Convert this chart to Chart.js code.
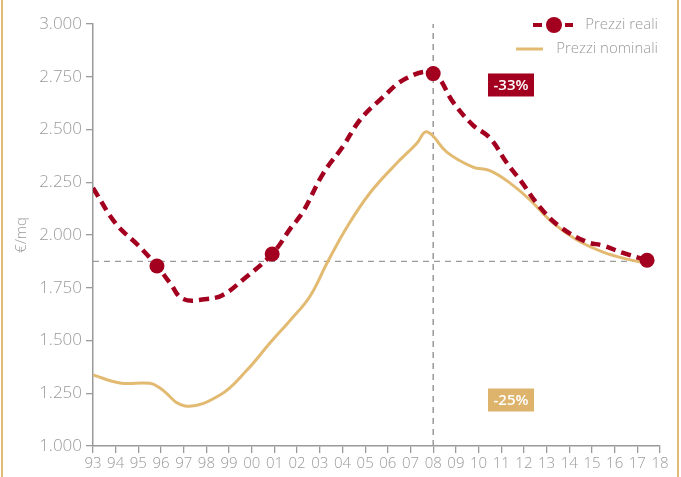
<!DOCTYPE html>
<html lang="it">
<head>
<meta charset="utf-8">
<title>Prezzi reali e nominali €/mq</title>
<script src="https://cdn.jsdelivr.net/npm/chart.js@4/dist/chart.umd.min.js"></script>
<style>
  html, body { margin: 0; padding: 0; background: #fff; }
  #wrap { position: relative; width: 681px; height: 477px; overflow: hidden; }
  #wrap::before, #wrap::after {
    content: ""; position: absolute; top: 0; bottom: 0; width: 2px; background: #e2ba72;
  }
  #wrap::before { left: 1px; }
  #wrap::after { left: 677px; }
  canvas { display: block; }
</style>
</head>
<body>
<div id="wrap"><canvas id="chart" width="681" height="477"></canvas></div>
<script>
// Anni (asse x) e valori in €/mq
const yearTicks = ['93','94','95','96','97','98','99','00','01','02','03','04','05','06','07','08','09','10','11','12','13','14','15','16','17','18'];

const realYears  = [1993.0, 1994.0, 1995.0, 1995.82, 1996.4, 1996.97, 1998.03, 1998.73, 1999.6, 2000.9, 2001.7, 2002.26, 2003.14, 2004.02, 2004.77, 2005.65, 2006.84, 2008.0, 2008.9, 2009.75, 2010.5, 2011.25, 2011.83, 2012.7, 2013.6, 2014.78, 2015.49, 2016.37, 2017.43];
const realPrices = [2223, 2055, 1950, 1853, 1772, 1697, 1697, 1716, 1787, 1910, 2030, 2110, 2290, 2420, 2545, 2640, 2744, 2765, 2626, 2521, 2460, 2341, 2261, 2133, 2038, 1967, 1950, 1915, 1880];
const realMarkedYears = [1995.82, 2000.9, 2008.0, 2017.43];

const nominalYears  = [1993.0, 1994.19, 1995.51, 1995.95, 1997.06, 1998.6, 1999.79, 2000.8, 2001.69, 2002.57, 2003.32, 2004.2, 2005.21, 2006.4, 2007.29, 2007.64, 2007.95, 2008.6, 2009.75, 2010.5, 2011.39, 2012.27, 2013.28, 2014.34, 2015.49, 2016.68, 2017.43];
const nominalPrices = [1337, 1299, 1297, 1275, 1190, 1242, 1360, 1488, 1595, 1710, 1867, 2038, 2199, 2341, 2436, 2488, 2474, 2393, 2322, 2305, 2246, 2166, 2057, 1976, 1919, 1882, 1867];

// Linee di riferimento: livello finale e picco del 2008
const refLevel = 1875;
const refLevelFrom = 1993, refLevelTo = 2017.43;
const peakYear = 2008;

// Variazioni dal picco
const changeLabels = [
  { text: '-33%', x: 2011.43, y: 2711, color: '#a3001f' },
  { text: '-25%', x: 2011.43, y: 1218, color: '#deb46c' }
];

const RED = '#a3001f';
const TAN = '#e2ba72';
const GREY = '#9a9a9a';
const FONT = "'Open Sans', 'DejaVu Sans', sans-serif";

const realData = realYears.map((x, i) => ({ x, y: realPrices[i] }));
const nominalData = nominalYears.map((x, i) => ({ x, y: nominalPrices[i] }));
const markerRadius = realYears.map(x => realMarkedYears.includes(x) ? 7.5 : 0);

function fmtThousands(v) {
  const s = String(Math.round(v));
  return s.replace(/\B(?=(\d{3})+(?!\d))/g, '.');
}

const overlayPlugin = {
  id: 'overlay',
  afterDraw(chart) {
    const { ctx, scales: { x, y }, chartArea } = chart;
    ctx.save();

    // Titolo asse y
    ctx.save();
    ctx.translate(22, (chartArea.top + chartArea.bottom) / 2);
    ctx.rotate(-Math.PI / 2);
    ctx.fillStyle = GREY;
    ctx.font = `300 15px ${FONT}`;
    ctx.textAlign = 'center';
    ctx.textBaseline = 'middle';
    ctx.fillText('€/mq', 0, 0);
    ctx.restore();

    // Etichette di variazione
    ctx.font = `600 15px ${FONT}`;
    ctx.textAlign = 'center';
    ctx.textBaseline = 'middle';
    changeLabels.forEach(l => {
      const cx = x.getPixelForValue(l.x);
      const cy = y.getPixelForValue(l.y);
      const w = 46, h = 23;
      ctx.fillStyle = l.color;
      ctx.fillRect(cx - w / 2, cy - h / 2, w, h);
      ctx.fillStyle = '#fff';
      ctx.fillText(l.text, cx, cy + 1);
    });

    // Legenda
    const right = 658;
    ctx.font = `300 15px ${FONT}`;
    ctx.textAlign = 'right';
    ctx.textBaseline = 'middle';
    ctx.fillStyle = GREY;
    ctx.fillText('Prezzi reali', right, 25);
    ctx.fillText('Prezzi nominali', right, 49);

    ctx.strokeStyle = RED;
    ctx.lineWidth = 4;
    ctx.beginPath();
    ctx.moveTo(533, 25); ctx.lineTo(542, 25);
    ctx.moveTo(565, 25); ctx.lineTo(573, 25);
    ctx.stroke();
    ctx.fillStyle = RED;
    ctx.beginPath();
    ctx.arc(554, 25, 8, 0, Math.PI * 2);
    ctx.fill();

    ctx.strokeStyle = TAN;
    ctx.lineWidth = 3;
    ctx.beginPath();
    ctx.moveTo(516, 49); ctx.lineTo(543, 49);
    ctx.stroke();

    ctx.restore();
  }
};

new Chart(document.getElementById('chart'), {
  type: 'line',
  data: {
    datasets: [
      {
        label: 'livello',
        data: [{ x: refLevelFrom, y: refLevel }, { x: refLevelTo, y: refLevel }],
        borderColor: GREY,
        borderWidth: 1.3,
        borderDash: [6, 5],
        pointRadius: 0,
        tension: 0,
        order: 3
      },
      {
        label: 'picco',
        data: [{ x: peakYear, y: 1000 }, { x: peakYear, y: 3000 }],
        borderColor: GREY,
        borderWidth: 1.5,
        borderDash: [6, 5],
        pointRadius: 0,
        tension: 0,
        order: 3
      },
      {
        label: 'Prezzi nominali',
        data: nominalData,
        borderColor: TAN,
        borderWidth: 3,
        pointRadius: 0,
        tension: 0.4,
        order: 2
      },
      {
        label: 'Prezzi reali',
        data: realData,
        borderColor: RED,
        backgroundColor: RED,
        borderWidth: 4.5,
        borderDash: [10, 6],
        pointRadius: markerRadius,
        pointHoverRadius: markerRadius,
        pointBorderWidth: 0,
        tension: 0.4,
        order: 1
      }
    ]
  },
  options: {
    responsive: false,
    animation: false,
    events: [],
    layout: { padding: { left: 0, right: 21, top: 24, bottom: 0 } },
    plugins: {
      legend: { display: false },
      tooltip: { enabled: false }
    },
    scales: {
      x: {
        type: 'linear',
        min: 1993,
        max: 2018,
        afterFit(scale) { scale.height = 31; },
        afterBuildTicks(scale) {
          scale.ticks = yearTicks.map((_, i) => ({ value: 1993 + i }));
        },
        ticks: {
          autoSkip: false,
          maxRotation: 0,
          padding: 2,
          color: GREY,
          font: { family: FONT, size: 15, weight: '300' },
          callback: (v) => yearTicks[Math.round(v) - 1993]
        },
        grid: { drawOnChartArea: false, drawTicks: true, tickLength: 7, color: GREY, lineWidth: 1.3 },
        border: { display: true, color: GREY, width: 1.5 }
      },
      y: {
        min: 1000,
        max: 3000,
        afterFit(scale) { scale.width = 93; },
        ticks: {
          stepSize: 250,
          padding: 4,
          color: GREY,
          font: { family: FONT, size: 17, weight: '300' },
          callback: (v) => fmtThousands(v)
        },
        grid: { drawOnChartArea: false, drawTicks: true, tickLength: 7, color: GREY, lineWidth: 1.3 },
        border: { display: true, color: GREY, width: 1.5 }
      }
    }
  },
  plugins: [overlayPlugin]
});
</script>
</body>
</html>
